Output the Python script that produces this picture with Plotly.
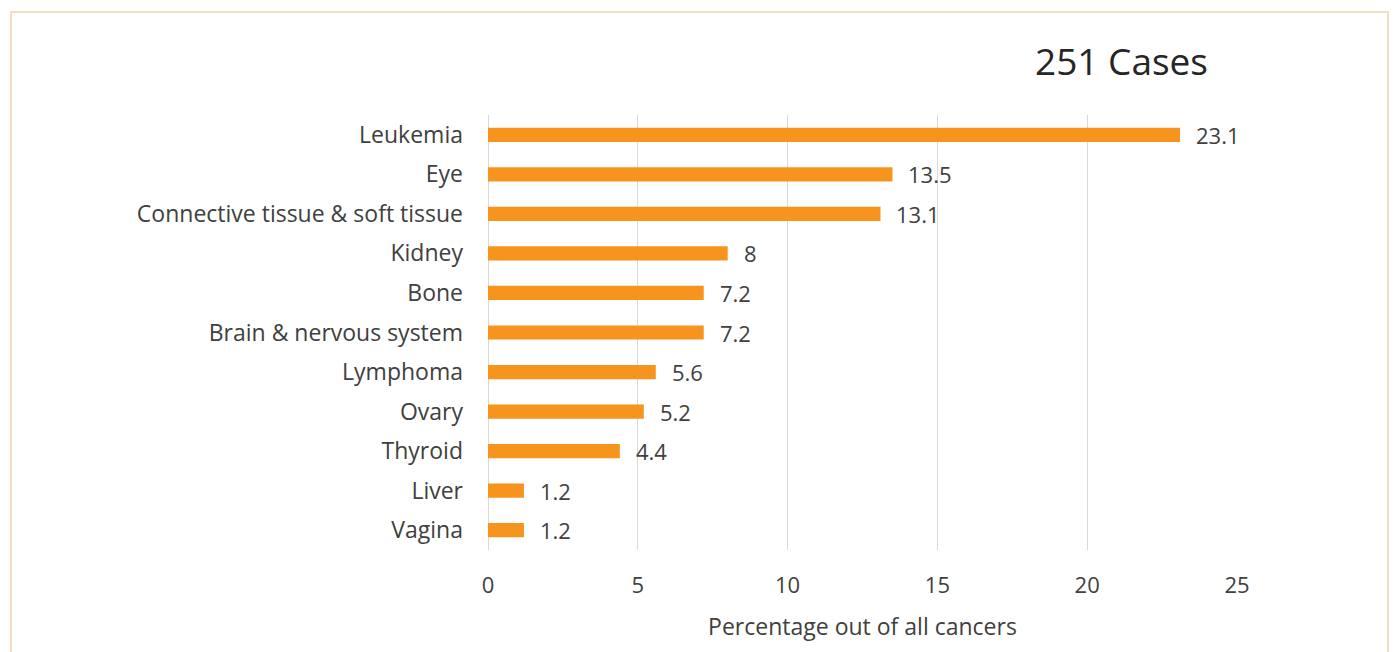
import plotly.graph_objects as go

categories = ["Leukemia", "Eye", "Connective tissue & soft tissue", "Kidney", "Bone",
              "Brain & nervous system", "Lymphoma", "Ovary", "Thyroid", "Liver", "Vagina"]
values = [23.1, 13.5, 13.1, 8, 7.2, 7.2, 5.6, 5.2, 4.4, 1.2, 1.2]
x_ticks = [0, 5, 10, 15, 20, 25]
title_text = "251 Cases"
x_title = "Percentage out of all cancers"

W, H = 1394, 652
L, R, T, B = 488, 157, 115, 102
pw, ph = W - L - R, H - T - B

FONT = "Open Sans, Lato, sans-serif"
TXT = "#404040"
FS = 23

fig = go.Figure()
fig.add_trace(go.Bar(
    x=values, y=categories, orientation="h",
    marker=dict(color="#F7941D", line=dict(width=0)),
    width=0.36, hoverinfo="x+y",
))

annotations = []
for c, v in zip(categories, values):
    annotations.append(dict(x=v, y=c, xref="x", yref="y", text=f"{v:g}", showarrow=False,
                            xanchor="left", yanchor="middle", xshift=14,
                            font=dict(size=FS - 1, color=TXT, family=FONT)))
annotations.append(dict(x=(1121 - L) / pw, y=1 + (T - 60) / ph, xref="paper", yref="paper",
                        text=title_text, showarrow=False, xanchor="center", yanchor="middle",
                        font=dict(size=37, color="#262626", family=FONT)))

def px_x(p):
    return (p - L) / pw

def px_y(p):
    return 1 - (p - T) / ph

fig.add_shape(type="rect", xref="paper", yref="paper",
              x0=px_x(11), x1=px_x(1388), y0=px_y(680), y1=px_y(12),
              line=dict(color="#F2DFC0", width=2), fillcolor="rgba(0,0,0,0)", layer="below")

fig.update_layout(
    width=W, height=H,
    margin=dict(l=L, r=R, t=T, b=B, pad=0),
    paper_bgcolor="white", plot_bgcolor="white",
    showlegend=False,
    font=dict(family=FONT, size=FS, color=TXT),
    annotations=annotations,
)
fig.update_xaxes(
    range=[0, 25], tickvals=x_ticks, ticktext=[str(t) for t in x_ticks],
    showgrid=True, gridcolor="#D9D9D9", gridwidth=1,
    zeroline=True, zerolinecolor="#D9D9D9", zerolinewidth=1,
    showline=False, ticks="", ticklabelstandoff=20,
    tickfont=dict(size=FS - 1, color=TXT, family=FONT),
    title=dict(text=x_title, font=dict(size=FS, color=TXT, family=FONT), standoff=20),
    fixedrange=True,
)
fig.update_yaxes(
    categoryorder="array", categoryarray=categories, autorange="reversed",
    showgrid=False, showline=False, ticks="", ticklabelstandoff=24,
    tickfont=dict(size=FS, color=TXT, family=FONT),
    fixedrange=True,
)

fig.write_html("out.html", config={"displayModeBar": False},
               post_script="document.body.style.margin='0';document.body.style.overflow='hidden';")
